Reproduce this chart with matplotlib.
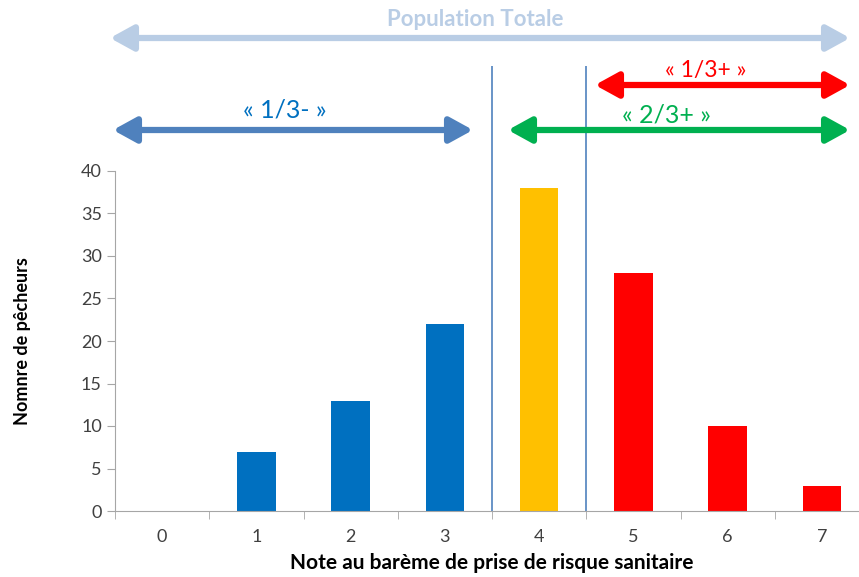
import matplotlib.pyplot as plt

notes = [0, 1, 2, 3, 4, 5, 6, 7]
pecheurs = [0, 7, 13, 22, 38, 28, 10, 3]
couleurs = ['#0070C0', '#0070C0', '#0070C0', '#0070C0', '#FFC000', '#FF0000', '#FF0000', '#FF0000']
y_ticks = [0, 5, 10, 15, 20, 25, 30, 35, 40]

plt.rcParams['font.family'] = ['Lato', 'DejaVu Sans']

fig = plt.figure(figsize=(8.59, 5.77), dpi=100)
ax = fig.add_axes([115 / 859, 66 / 577, 754 / 859, 340 / 577])

ax.bar(notes, pecheurs, width=0.41, color=couleurs)
ax.set_xlim(-0.5, 7.5)
ax.set_ylim(0, 40)
ax.set_yticks(y_ticks)
ax.set_xticks(notes)
ax.set_xticks([n - 0.5 for n in notes] + [7.5], minor=True)
ax.tick_params(axis='x', which='major', length=0, pad=13, labelsize=13, colors='#404040')
ax.tick_params(axis='x', which='minor', length=6, color='#A6A6A6')
ax.tick_params(axis='y', length=6, color='#A6A6A6', labelsize=13, labelcolor='#404040')
for s in ['top', 'right']:
    ax.spines[s].set_visible(False)
for s in ['left', 'bottom']:
    ax.spines[s].set_color('#A6A6A6')

ax.set_xlabel('Note au barème de prise de risque sanitaire', fontsize=15, fontweight='bold', labelpad=6)
ax.set_ylabel('Nomnre de pêcheurs', fontsize=13, fontweight='bold', labelpad=36)

# separateurs verticaux
ax.vlines([3.5, 4.5], 0, 52.4, color='#4F81BD', lw=1.2, clip_on=False)

# fleches
def fleche(x0, x1, y, couleur, lw=4.5):
    fig.patches.append(plt.matplotlib.patches.FancyArrowPatch(
        (x0, 577 - y), (x1, 577 - y), transform=None,
        arrowstyle='<|-|>,head_length=1.0,head_width=0.55', mutation_scale=14,
        color=couleur, lw=lw, shrinkA=0, shrinkB=0))

fleche(110, 850, 38, '#B9CDE5')
fleche(595, 850, 85, '#FF0000')
fleche(113, 473, 130, '#4F81BD')
fleche(508, 850, 130, '#00B050')

fig.text(475 / 859, 1 - 19 / 577, 'Population Totale', color='#B9CDE5', fontsize=16,
         fontweight='bold', ha='center', va='center')
fig.text(706 / 859, 1 - 70 / 577, '« 1/3+ »', color='#FF0000', fontsize=16.5, ha='center', va='center')
fig.text(285 / 859, 1 - 110 / 577, '« 1/3- »', color='#0070C0', fontsize=18, ha='center', va='center')
fig.text(667 / 859, 1 - 115 / 577, '« 2/3+ »', color='#00B050', fontsize=18, ha='center', va='center')

fig.savefig('out.png', dpi=100)
